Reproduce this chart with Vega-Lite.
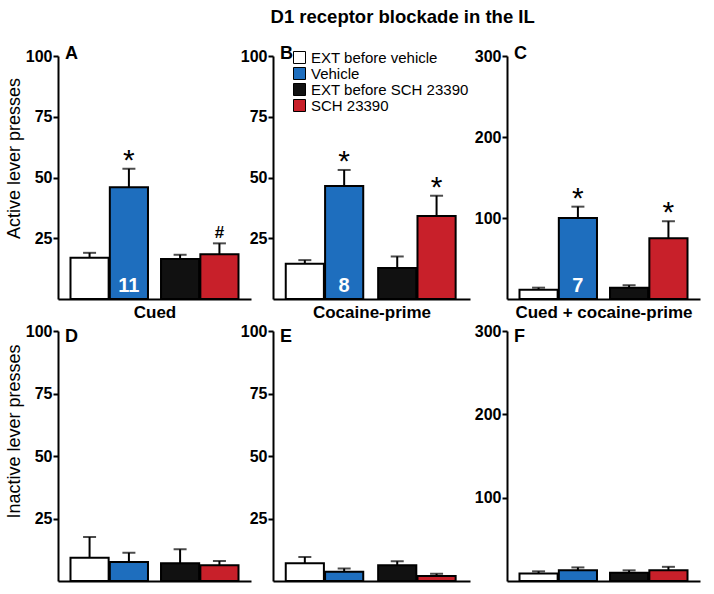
{
  "$schema": "https://vega.github.io/schema/vega-lite/v6.json",
  "title": {"text": "D1 receptor blockade in the IL", "fontSize": 18.5, "fontWeight": "bold", "font": "Liberation Sans", "color": "black", "anchor": "middle", "dx": 50, "offset": 19},
  "padding": {"left": 5, "top": 7, "right": 5, "bottom": 5},
  "data": {"values": [
    {"panel": "A", "group": "Vehicle", "phase": "EXT", "condition": "EXT before vehicle", "mean": 17, "upper": 19},
    {"panel": "A", "group": "Vehicle", "phase": "Test", "condition": "Vehicle", "mean": 46, "upper": 53.6, "sig": "*", "n": "11"},
    {"panel": "A", "group": "SCH 23390", "phase": "EXT", "condition": "EXT before SCH 23390", "mean": 16.5, "upper": 18.2},
    {"panel": "A", "group": "SCH 23390", "phase": "Test", "condition": "SCH 23390", "mean": 18.4, "upper": 22.9, "sig": "#"},
    {"panel": "B", "group": "Vehicle", "phase": "EXT", "condition": "EXT before vehicle", "mean": 14.5, "upper": 16},
    {"panel": "B", "group": "Vehicle", "phase": "Test", "condition": "Vehicle", "mean": 46.5, "upper": 53.1, "sig": "*", "n": "8"},
    {"panel": "B", "group": "SCH 23390", "phase": "EXT", "condition": "EXT before SCH 23390", "mean": 12.8, "upper": 17.5},
    {"panel": "B", "group": "SCH 23390", "phase": "Test", "condition": "SCH 23390", "mean": 34.2, "upper": 42.5, "sig": "*"},
    {"panel": "C", "group": "Vehicle", "phase": "EXT", "condition": "EXT before vehicle", "mean": 11.5, "upper": 14},
    {"panel": "C", "group": "Vehicle", "phase": "Test", "condition": "Vehicle", "mean": 100, "upper": 114, "sig": "*", "n": "7"},
    {"panel": "C", "group": "SCH 23390", "phase": "EXT", "condition": "EXT before SCH 23390", "mean": 14, "upper": 17},
    {"panel": "C", "group": "SCH 23390", "phase": "Test", "condition": "SCH 23390", "mean": 75, "upper": 96, "sig": "*"},
    {"panel": "D", "group": "Vehicle", "phase": "EXT", "condition": "EXT before vehicle", "mean": 9.3, "upper": 17.6},
    {"panel": "D", "group": "Vehicle", "phase": "Test", "condition": "Vehicle", "mean": 7.6, "upper": 11.3},
    {"panel": "D", "group": "SCH 23390", "phase": "EXT", "condition": "EXT before SCH 23390", "mean": 7.1, "upper": 12.7},
    {"panel": "D", "group": "SCH 23390", "phase": "Test", "condition": "SCH 23390", "mean": 6.3, "upper": 8},
    {"panel": "E", "group": "Vehicle", "phase": "EXT", "condition": "EXT before vehicle", "mean": 7.1, "upper": 9.6},
    {"panel": "E", "group": "Vehicle", "phase": "Test", "condition": "Vehicle", "mean": 3.7, "upper": 5},
    {"panel": "E", "group": "SCH 23390", "phase": "EXT", "condition": "EXT before SCH 23390", "mean": 6.3, "upper": 7.9},
    {"panel": "E", "group": "SCH 23390", "phase": "Test", "condition": "SCH 23390", "mean": 2, "upper": 2.9},
    {"panel": "F", "group": "Vehicle", "phase": "EXT", "condition": "EXT before vehicle", "mean": 9, "upper": 11.6},
    {"panel": "F", "group": "Vehicle", "phase": "Test", "condition": "Vehicle", "mean": 12.8, "upper": 16.3},
    {"panel": "F", "group": "SCH 23390", "phase": "EXT", "condition": "EXT before SCH 23390", "mean": 10, "upper": 12.8},
    {"panel": "F", "group": "SCH 23390", "phase": "Test", "condition": "SCH 23390", "mean": 12.8, "upper": 17}
  ]},
  "spacing": 3,
  "resolve": {"scale": {"color": "independent"}},
  "vconcat": [
    {
      "spacing": -11,
      "resolve": {"scale": {"color": "independent"}},
      "hconcat": [
        {
          "width": 193, "height": 243,
          "title": {"text": "A", "anchor": "start", "frame": "group", "fontSize": 18, "fontWeight": "bold", "font": "Liberation Sans", "color": "black", "offset": -15, "dx": 7},
          "transform": [{"filter": "datum.panel === 'A'"}],
          "encoding": {
            "x": {"field": "group", "type": "nominal", "sort": ["Vehicle", "SCH 23390"], "scale": {"paddingInner": 0.144, "paddingOuter": 0.138}, "axis": {"labels": false, "ticks": false, "title": "Cued", "titleFontSize": 17, "titleFontWeight": "bold", "titlePadding": 5}},
            "xOffset": {"field": "phase", "type": "nominal", "sort": ["EXT", "Test"], "scale": {"paddingInner": 0.03}}
          },
          "layer": [
            {"mark": {"type": "bar", "stroke": "black", "strokeWidth": 2}, "encoding": {"y": {"field": "mean", "type": "quantitative", "scale": {"domain": [0, 100]}, "axis": {"values": [25, 50, 75, 100], "title": "Active lever presses", "titleY": 102}}, "color": {"field": "condition", "type": "nominal", "scale": {"domain": ["EXT before vehicle", "Vehicle", "EXT before SCH 23390", "SCH 23390"], "range": ["#ffffff", "#1e6ebe", "#111111", "#c8202a"]}, "legend": null}}},
            {"mark": {"type": "rule", "strokeWidth": 2, "color": "black"}, "encoding": {"y": {"field": "mean", "type": "quantitative"}, "y2": {"field": "upper"}}},
            {"mark": {"type": "tick", "size": 13, "thickness": 2, "color": "black"}, "encoding": {"y": {"field": "upper", "type": "quantitative"}}},
            {"transform": [{"filter": "datum.sig === '*'"}], "mark": {"type": "text", "fontSize": 30, "font": "Liberation Sans", "baseline": "alphabetic", "dy": 1, "color": "black"}, "encoding": {"y": {"field": "upper", "type": "quantitative"}, "text": {"field": "sig"}}},
            {"transform": [{"filter": "datum.sig === '#'"}], "mark": {"type": "text", "fontSize": 17, "fontWeight": "bold", "font": "Liberation Sans", "baseline": "alphabetic", "dy": -5, "color": "black"}, "encoding": {"y": {"field": "upper", "type": "quantitative"}, "text": {"field": "sig"}}},
            {"transform": [{"filter": "datum.n != null"}], "mark": {"type": "text", "fontSize": 20, "fontWeight": "bold", "font": "Liberation Sans", "baseline": "alphabetic", "dy": -7, "color": "white"}, "encoding": {"y": {"datum": 0, "type": "quantitative"}, "text": {"field": "n"}}}
          ]
        },
        {
          "spacing": 4,
          "resolve": {"scale": {"color": "independent"}},
          "hconcat": [
            {
              "width": 197, "height": 243,
              "title": {"text": "B", "anchor": "start", "frame": "group", "fontSize": 18, "fontWeight": "bold", "font": "Liberation Sans", "color": "black", "offset": -15, "dx": 7},
              "transform": [{"filter": "datum.panel === 'B'"}],
              "encoding": {
                "x": {"field": "group", "type": "nominal", "sort": ["Vehicle", "SCH 23390"], "scale": {"paddingInner": 0.144, "paddingOuter": 0.138}, "axis": {"labels": false, "ticks": false, "title": "Cocaine-prime", "titleFontSize": 17, "titleFontWeight": "bold", "titlePadding": 5}},
                "xOffset": {"field": "phase", "type": "nominal", "sort": ["EXT", "Test"], "scale": {"paddingInner": 0.03}}
              },
              "layer": [
                {"mark": {"type": "bar", "stroke": "black", "strokeWidth": 2}, "encoding": {"y": {"field": "mean", "type": "quantitative", "scale": {"domain": [0, 100]}, "axis": {"values": [25, 50, 75, 100], "title": null}}, "color": {"field": "condition", "type": "nominal", "scale": {"domain": ["EXT before vehicle", "Vehicle", "EXT before SCH 23390", "SCH 23390"], "range": ["#ffffff", "#1e6ebe", "#111111", "#c8202a"]}, "legend": {"orient": "none", "legendX": 19, "legendY": -6, "title": null, "symbolType": "square", "symbolSize": 144, "symbolStrokeColor": "black", "symbolStrokeWidth": 1, "symbolOpacity": 1, "labelFontSize": 15, "labelFont": "Liberation Sans", "labelColor": "black", "labelOffset": 4, "rowPadding": -1, "padding": 0}}}},
                {"mark": {"type": "rule", "strokeWidth": 2, "color": "black"}, "encoding": {"y": {"field": "mean", "type": "quantitative"}, "y2": {"field": "upper"}}},
                {"mark": {"type": "tick", "size": 13, "thickness": 2, "color": "black"}, "encoding": {"y": {"field": "upper", "type": "quantitative"}}},
                {"transform": [{"filter": "datum.sig === '*'"}], "mark": {"type": "text", "fontSize": 30, "font": "Liberation Sans", "baseline": "alphabetic", "dy": 1, "color": "black"}, "encoding": {"y": {"field": "upper", "type": "quantitative"}, "text": {"field": "sig"}}},
                {"transform": [{"filter": "datum.n != null"}], "mark": {"type": "text", "fontSize": 20, "fontWeight": "bold", "font": "Liberation Sans", "baseline": "alphabetic", "dy": -7, "color": "white"}, "encoding": {"y": {"datum": 0, "type": "quantitative"}, "text": {"field": "n"}}}
              ]
            },
            {
              "width": 193, "height": 243,
              "title": {"text": "C", "anchor": "start", "frame": "group", "fontSize": 18, "fontWeight": "bold", "font": "Liberation Sans", "color": "black", "offset": -15, "dx": 7},
              "transform": [{"filter": "datum.panel === 'C'"}],
              "encoding": {
                "x": {"field": "group", "type": "nominal", "sort": ["Vehicle", "SCH 23390"], "scale": {"paddingInner": 0.144, "paddingOuter": 0.138}, "axis": {"labels": false, "ticks": false, "title": "Cued + cocaine-prime", "titleFontSize": 17, "titleFontWeight": "bold", "titlePadding": 5}},
                "xOffset": {"field": "phase", "type": "nominal", "sort": ["EXT", "Test"], "scale": {"paddingInner": 0.03}}
              },
              "layer": [
                {"mark": {"type": "bar", "stroke": "black", "strokeWidth": 2}, "encoding": {"y": {"field": "mean", "type": "quantitative", "scale": {"domain": [0, 300]}, "axis": {"values": [100, 200, 300], "title": null}}, "color": {"field": "condition", "type": "nominal", "scale": {"domain": ["EXT before vehicle", "Vehicle", "EXT before SCH 23390", "SCH 23390"], "range": ["#ffffff", "#1e6ebe", "#111111", "#c8202a"]}, "legend": null}}},
                {"mark": {"type": "rule", "strokeWidth": 2, "color": "black"}, "encoding": {"y": {"field": "mean", "type": "quantitative"}, "y2": {"field": "upper"}}},
                {"mark": {"type": "tick", "size": 13, "thickness": 2, "color": "black"}, "encoding": {"y": {"field": "upper", "type": "quantitative"}}},
                {"transform": [{"filter": "datum.sig === '*'"}], "mark": {"type": "text", "fontSize": 30, "font": "Liberation Sans", "baseline": "alphabetic", "dy": 1, "color": "black"}, "encoding": {"y": {"field": "upper", "type": "quantitative"}, "text": {"field": "sig"}}},
                {"transform": [{"filter": "datum.n != null"}], "mark": {"type": "text", "fontSize": 20, "fontWeight": "bold", "font": "Liberation Sans", "baseline": "alphabetic", "dy": -7, "color": "white"}, "encoding": {"y": {"datum": 0, "type": "quantitative"}, "text": {"field": "n"}}}
              ]
            }
          ]
        }
      ]
    },
    {
      "spacing": -11,
      "resolve": {"scale": {"color": "independent"}},
      "hconcat": [
        {
          "width": 193, "height": 250,
          "title": {"text": "D", "anchor": "start", "frame": "group", "fontSize": 18, "fontWeight": "bold", "font": "Liberation Sans", "color": "black", "offset": -23, "dx": 7},
          "transform": [{"filter": "datum.panel === 'D'"}],
          "encoding": {
            "x": {"field": "group", "type": "nominal", "sort": ["Vehicle", "SCH 23390"], "scale": {"paddingInner": 0.144, "paddingOuter": 0.138}, "axis": {"labels": false, "ticks": false, "title": null}},
            "xOffset": {"field": "phase", "type": "nominal", "sort": ["EXT", "Test"], "scale": {"paddingInner": 0.03}}
          },
          "layer": [
            {"mark": {"type": "bar", "stroke": "black", "strokeWidth": 2}, "encoding": {"y": {"field": "mean", "type": "quantitative", "scale": {"domain": [0, 100]}, "axis": {"values": [25, 50, 75, 100], "title": "Inactive lever presses", "titleY": 100}}, "color": {"field": "condition", "type": "nominal", "scale": {"domain": ["EXT before vehicle", "Vehicle", "EXT before SCH 23390", "SCH 23390"], "range": ["#ffffff", "#1e6ebe", "#111111", "#c8202a"]}, "legend": null}}},
            {"mark": {"type": "rule", "strokeWidth": 2, "color": "black"}, "encoding": {"y": {"field": "mean", "type": "quantitative"}, "y2": {"field": "upper"}}},
            {"mark": {"type": "tick", "size": 13, "thickness": 2, "color": "black"}, "encoding": {"y": {"field": "upper", "type": "quantitative"}}}
          ]
        },
        {
          "spacing": 4,
          "resolve": {"scale": {"color": "independent"}},
          "hconcat": [
            {
              "width": 197, "height": 250,
              "title": {"text": "E", "anchor": "start", "frame": "group", "fontSize": 18, "fontWeight": "bold", "font": "Liberation Sans", "color": "black", "offset": -23, "dx": 7},
              "transform": [{"filter": "datum.panel === 'E'"}],
              "encoding": {
                "x": {"field": "group", "type": "nominal", "sort": ["Vehicle", "SCH 23390"], "scale": {"paddingInner": 0.144, "paddingOuter": 0.138}, "axis": {"labels": false, "ticks": false, "title": null}},
                "xOffset": {"field": "phase", "type": "nominal", "sort": ["EXT", "Test"], "scale": {"paddingInner": 0.03}}
              },
              "layer": [
                {"mark": {"type": "bar", "stroke": "black", "strokeWidth": 2}, "encoding": {"y": {"field": "mean", "type": "quantitative", "scale": {"domain": [0, 100]}, "axis": {"values": [25, 50, 75, 100], "title": null}}, "color": {"field": "condition", "type": "nominal", "scale": {"domain": ["EXT before vehicle", "Vehicle", "EXT before SCH 23390", "SCH 23390"], "range": ["#ffffff", "#1e6ebe", "#111111", "#c8202a"]}, "legend": null}}},
                {"mark": {"type": "rule", "strokeWidth": 2, "color": "black"}, "encoding": {"y": {"field": "mean", "type": "quantitative"}, "y2": {"field": "upper"}}},
                {"mark": {"type": "tick", "size": 13, "thickness": 2, "color": "black"}, "encoding": {"y": {"field": "upper", "type": "quantitative"}}}
              ]
            },
            {
              "width": 193, "height": 250,
              "title": {"text": "F", "anchor": "start", "frame": "group", "fontSize": 18, "fontWeight": "bold", "font": "Liberation Sans", "color": "black", "offset": -23, "dx": 7},
              "transform": [{"filter": "datum.panel === 'F'"}],
              "encoding": {
                "x": {"field": "group", "type": "nominal", "sort": ["Vehicle", "SCH 23390"], "scale": {"paddingInner": 0.144, "paddingOuter": 0.138}, "axis": {"labels": false, "ticks": false, "title": null}},
                "xOffset": {"field": "phase", "type": "nominal", "sort": ["EXT", "Test"], "scale": {"paddingInner": 0.03}}
              },
              "layer": [
                {"mark": {"type": "bar", "stroke": "black", "strokeWidth": 2}, "encoding": {"y": {"field": "mean", "type": "quantitative", "scale": {"domain": [0, 300]}, "axis": {"values": [100, 200, 300], "title": null}}, "color": {"field": "condition", "type": "nominal", "scale": {"domain": ["EXT before vehicle", "Vehicle", "EXT before SCH 23390", "SCH 23390"], "range": ["#ffffff", "#1e6ebe", "#111111", "#c8202a"]}, "legend": null}}},
                {"mark": {"type": "rule", "strokeWidth": 2, "color": "black"}, "encoding": {"y": {"field": "mean", "type": "quantitative"}, "y2": {"field": "upper"}}},
                {"mark": {"type": "tick", "size": 13, "thickness": 2, "color": "black"}, "encoding": {"y": {"field": "upper", "type": "quantitative"}}}
              ]
            }
          ]
        }
      ]
    }
  ],
  "config": {
    "font": "Liberation Sans",
    "view": {"stroke": null},
    "axis": {"grid": false, "domainColor": "black", "domainWidth": 2, "tickColor": "black", "tickWidth": 2, "tickSize": 5, "labelFont": "Liberation Sans", "labelFontWeight": "bold", "labelFontSize": 16, "labelColor": "black", "labelPadding": 1, "titleFont": "Liberation Sans", "titleFontWeight": "normal", "titleFontSize": 18, "titleColor": "black", "titlePadding": 2}
  }
}
